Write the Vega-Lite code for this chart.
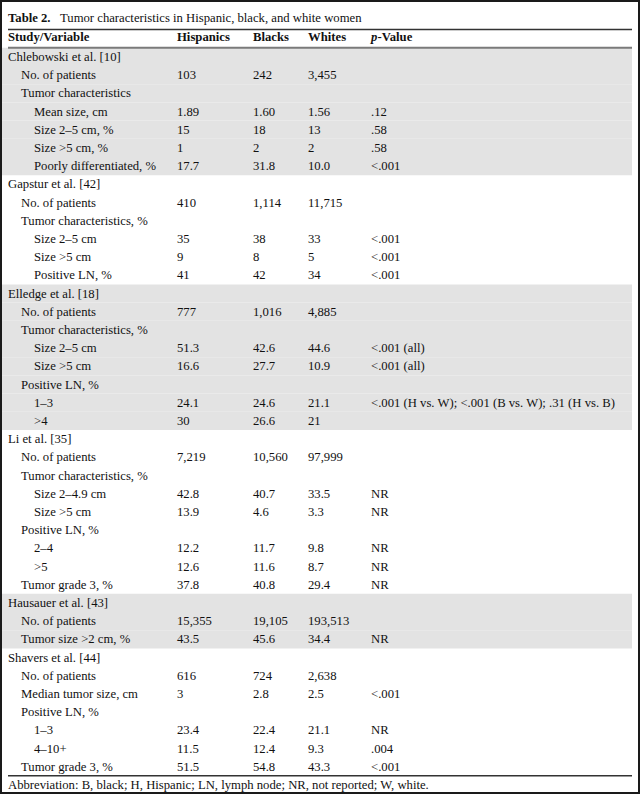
{
  "$schema": "https://vega.github.io/schema/vega-lite/v6.json",
  "width": 640,
  "height": 794,
  "autosize": {"type": "none"},
  "padding": 0,
  "background": "white",
  "config": {
    "view": {"stroke": "#1a1a1a", "strokeWidth": 4},
    "axis": {"disable": true},
    "text": {"font": "Liberation Serif", "fontSize": 12.7, "baseline": "middle", "align": "left", "color": "#111"}
  },
  "datasets": {
    "table": [
      {"r": 0, "lvl": 0, "s": "Chlebowski et al. [10]", "shaded": true},
      {"r": 1, "lvl": 1, "s": "No. of patients", "h": "103", "b": "242", "w": "3,455", "shaded": true},
      {"r": 2, "lvl": 1, "s": "Tumor characteristics", "shaded": true},
      {"r": 3, "lvl": 2, "s": "Mean size, cm", "h": "1.89", "b": "1.60", "w": "1.56", "p": ".12", "shaded": true},
      {"r": 4, "lvl": 2, "s": "Size 2–5 cm, %", "h": "15", "b": "18", "w": "13", "p": ".58", "shaded": true},
      {"r": 5, "lvl": 2, "s": "Size >5 cm, %", "h": "1", "b": "2", "w": "2", "p": ".58", "shaded": true},
      {"r": 6, "lvl": 2, "s": "Poorly differentiated, %", "h": "17.7", "b": "31.8", "w": "10.0", "p": "<.001", "shaded": true},
      {"r": 7, "lvl": 0, "s": "Gapstur et al. [42]", "shaded": false},
      {"r": 8, "lvl": 1, "s": "No. of patients", "h": "410", "b": "1,114", "w": "11,715", "shaded": false},
      {"r": 9, "lvl": 1, "s": "Tumor characteristics, %", "shaded": false},
      {"r": 10, "lvl": 2, "s": "Size 2–5 cm", "h": "35", "b": "38", "w": "33", "p": "<.001", "shaded": false},
      {"r": 11, "lvl": 2, "s": "Size >5 cm", "h": "9", "b": "8", "w": "5", "p": "<.001", "shaded": false},
      {"r": 12, "lvl": 2, "s": "Positive LN, %", "h": "41", "b": "42", "w": "34", "p": "<.001", "shaded": false},
      {"r": 13, "lvl": 0, "s": "Elledge et al. [18]", "shaded": true},
      {"r": 14, "lvl": 1, "s": "No. of patients", "h": "777", "b": "1,016", "w": "4,885", "shaded": true},
      {"r": 15, "lvl": 1, "s": "Tumor characteristics, %", "shaded": true},
      {"r": 16, "lvl": 2, "s": "Size 2–5 cm", "h": "51.3", "b": "42.6", "w": "44.6", "p": "<.001 (all)", "shaded": true},
      {"r": 17, "lvl": 2, "s": "Size >5 cm", "h": "16.6", "b": "27.7", "w": "10.9", "p": "<.001 (all)", "shaded": true},
      {"r": 18, "lvl": 1, "s": "Positive LN, %", "shaded": true},
      {"r": 19, "lvl": 2, "s": "1–3", "h": "24.1", "b": "24.6", "w": "21.1", "p": "<.001 (H vs. W); <.001 (B vs. W); .31 (H vs. B)", "shaded": true},
      {"r": 20, "lvl": 2, "s": ">4", "h": "30", "b": "26.6", "w": "21", "shaded": true},
      {"r": 21, "lvl": 0, "s": "Li et al. [35]", "shaded": false},
      {"r": 22, "lvl": 1, "s": "No. of patients", "h": "7,219", "b": "10,560", "w": "97,999", "shaded": false},
      {"r": 23, "lvl": 1, "s": "Tumor characteristics, %", "shaded": false},
      {"r": 24, "lvl": 2, "s": "Size 2–4.9 cm", "h": "42.8", "b": "40.7", "w": "33.5", "p": "NR", "shaded": false},
      {"r": 25, "lvl": 2, "s": "Size >5 cm", "h": "13.9", "b": "4.6", "w": "3.3", "p": "NR", "shaded": false},
      {"r": 26, "lvl": 1, "s": "Positive LN, %", "shaded": false},
      {"r": 27, "lvl": 2, "s": "2–4", "h": "12.2", "b": "11.7", "w": "9.8", "p": "NR", "shaded": false},
      {"r": 28, "lvl": 2, "s": ">5", "h": "12.6", "b": "11.6", "w": "8.7", "p": "NR", "shaded": false},
      {"r": 29, "lvl": 1, "s": "Tumor grade 3, %", "h": "37.8", "b": "40.8", "w": "29.4", "p": "NR", "shaded": false},
      {"r": 30, "lvl": 0, "s": "Hausauer et al. [43]", "shaded": true},
      {"r": 31, "lvl": 1, "s": "No. of patients", "h": "15,355", "b": "19,105", "w": "193,513", "shaded": true},
      {"r": 32, "lvl": 1, "s": "Tumor size >2 cm, %", "h": "43.5", "b": "45.6", "w": "34.4", "p": "NR", "shaded": true},
      {"r": 33, "lvl": 0, "s": "Shavers et al. [44]", "shaded": false},
      {"r": 34, "lvl": 1, "s": "No. of patients", "h": "616", "b": "724", "w": "2,638", "shaded": false},
      {"r": 35, "lvl": 1, "s": "Median tumor size, cm", "h": "3", "b": "2.8", "w": "2.5", "p": "<.001", "shaded": false},
      {"r": 36, "lvl": 1, "s": "Positive LN, %", "shaded": false},
      {"r": 37, "lvl": 2, "s": "1–3", "h": "23.4", "b": "22.4", "w": "21.1", "p": "NR", "shaded": false},
      {"r": 38, "lvl": 2, "s": "4–10+", "h": "11.5", "b": "12.4", "w": "9.3", "p": ".004", "shaded": false},
      {"r": 39, "lvl": 1, "s": "Tumor grade 3, %", "h": "51.5", "b": "54.8", "w": "43.3", "p": "<.001", "shaded": false}
    ],
    "title": [{"r": -2, "bold": "Table 2.", "rest": "Tumor characteristics in Hispanic, black, and white women"}],
    "header": [{"r": -1, "s": "Study/Variable", "h": "Hispanics", "b": "Blacks", "w": "Whites", "p1": "p", "p2": "-Value"}],
    "footer": [{"r": 40, "s": "Abbreviation: B, black; H, Hispanic; LN, lymph node; NR, not reported; W, white."}],
    "rules": [{"r": -1, "k": "title"}, {"r": 0, "k": "head"}, {"r": 40, "k": "foot"}]
  },
  "encoding": {
    "y": {
      "field": "r",
      "type": "ordinal",
      "scale": {
        "type": "band",
        "domain": [-2, -1, 0, 1, 2, 3, 4, 5, 6, 7, 8, 9, 10, 11, 12, 13, 14, 15, 16, 17, 18, 19, 20, 21, 22, 23, 24, 25, 26, 27, 28, 29, 30, 31, 32, 33, 34, 35, 36, 37, 38, 39, 40],
        "range": [11.4, 794.0],
        "paddingInner": 0,
        "paddingOuter": 0
      }
    }
  },
  "layer": [
    {
      "data": {"name": "table"},
      "transform": [{"filter": "datum.shaded"}],
      "mark": {"type": "rect", "fill": "#e3e3e3"},
      "encoding": {
        "x": {"datum": -1, "type": "quantitative", "scale": {"type": "linear", "domain": [-1, 0, 1, 2, 3, 4, 5, 6, 7], "range": [2, 8, 21, 34, 177, 253, 308, 371, 632]}},
        "x2": {"datum": 7}
      }
    },
    {
      "data": {"name": "rules"},
      "transform": [{"filter": "datum.k !== 'head'"}],
      "mark": {"type": "rule", "stroke": "#333", "strokeWidth": 1.5},
      "encoding": {
        "y": {"field": "r", "type": "ordinal", "bandPosition": 0},
        "x": {"datum": 0, "type": "quantitative"},
        "x2": {"datum": 7}
      }
    },
    {
      "data": {"name": "rules"},
      "transform": [{"filter": "datum.k === 'head'"}],
      "mark": {"type": "rule", "stroke": "#7a7a7a", "strokeWidth": 2},
      "encoding": {
        "y": {"field": "r", "type": "ordinal", "bandPosition": 0},
        "x": {"datum": 0, "type": "quantitative"},
        "x2": {"datum": 7}
      }
    },
    {
      "data": {"name": "title"},
      "mark": {"type": "text", "fontWeight": "bold", "dy": -3},
      "encoding": {"x": {"datum": 0, "type": "quantitative"}, "text": {"field": "bold"}}
    },
    {
      "data": {"name": "title"},
      "mark": {"type": "text", "dy": -3, "dx": 52},
      "encoding": {"x": {"datum": 0, "type": "quantitative"}, "text": {"field": "rest"}}
    },
    {
      "data": {"name": "header"},
      "mark": {"type": "text", "fontWeight": "bold", "dy": -2},
      "encoding": {"x": {"datum": 0, "type": "quantitative"}, "text": {"field": "s"}}
    },
    {
      "data": {"name": "header"},
      "mark": {"type": "text", "fontWeight": "bold", "dy": -2},
      "encoding": {"x": {"datum": 3, "type": "quantitative"}, "text": {"field": "h"}}
    },
    {
      "data": {"name": "header"},
      "mark": {"type": "text", "fontWeight": "bold", "dy": -2},
      "encoding": {"x": {"datum": 4, "type": "quantitative"}, "text": {"field": "b"}}
    },
    {
      "data": {"name": "header"},
      "mark": {"type": "text", "fontWeight": "bold", "dy": -2},
      "encoding": {"x": {"datum": 5, "type": "quantitative"}, "text": {"field": "w"}}
    },
    {
      "data": {"name": "header"},
      "mark": {"type": "text", "fontWeight": "bold", "fontStyle": "italic", "dy": -2},
      "encoding": {"x": {"datum": 6, "type": "quantitative"}, "text": {"field": "p1"}}
    },
    {
      "data": {"name": "header"},
      "mark": {"type": "text", "fontWeight": "bold", "dy": -2, "dx": 6.5},
      "encoding": {"x": {"datum": 6, "type": "quantitative"}, "text": {"field": "p2"}}
    },
    {
      "data": {"name": "table"},
      "mark": {"type": "text"},
      "encoding": {"x": {"field": "lvl", "type": "quantitative"}, "text": {"field": "s"}}
    },
    {
      "data": {"name": "table"},
      "transform": [{"filter": "isValid(datum.h)"}],
      "mark": {"type": "text"},
      "encoding": {"x": {"datum": 3, "type": "quantitative"}, "text": {"field": "h"}}
    },
    {
      "data": {"name": "table"},
      "transform": [{"filter": "isValid(datum.b)"}],
      "mark": {"type": "text"},
      "encoding": {"x": {"datum": 4, "type": "quantitative"}, "text": {"field": "b"}}
    },
    {
      "data": {"name": "table"},
      "transform": [{"filter": "isValid(datum.w)"}],
      "mark": {"type": "text"},
      "encoding": {"x": {"datum": 5, "type": "quantitative"}, "text": {"field": "w"}}
    },
    {
      "data": {"name": "table"},
      "transform": [{"filter": "isValid(datum.p)"}],
      "mark": {"type": "text"},
      "encoding": {"x": {"datum": 6, "type": "quantitative"}, "text": {"field": "p"}}
    },
    {
      "data": {"name": "footer"},
      "mark": {"type": "text"},
      "encoding": {"x": {"datum": 0, "type": "quantitative"}, "text": {"field": "s"}}
    }
  ]
}
